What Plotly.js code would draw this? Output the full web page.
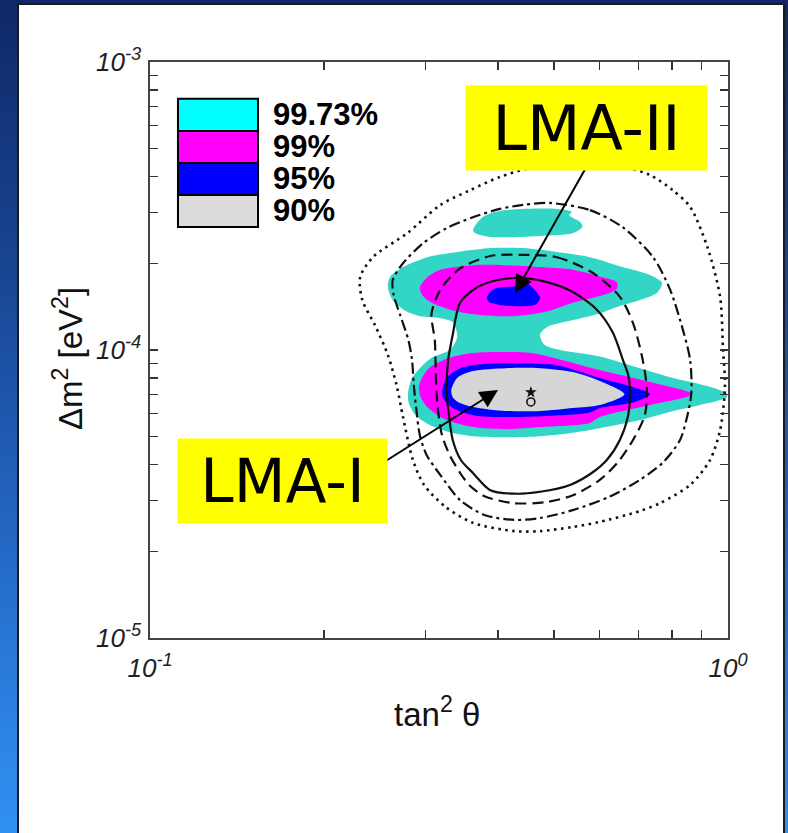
<!DOCTYPE html>
<html><head><meta charset="utf-8">
<script src="https://cdn.plot.ly/plotly-3.0.1.min.js"></script>
<style>
html,body{margin:0;padding:0;width:788px;height:833px;overflow:hidden;}
body{background:linear-gradient(to bottom,#0f2868 0%,#18438f 30%,#2262bd 60%,#2d86e6 90%,#3090f0 100%);}
#panel{position:absolute;left:17px;top:3px;width:764px;height:830px;background:#fff;border:2px solid #1b1b1b;}
#chart{width:764px;height:828px;}
</style></head><body><div id="panel"><div id="chart"></div></div>
<script>
// ---- legend / confidence levels ----
const levels = ['99.73%', '99%', '95%', '90%'];
const legendColors = ['#00ffff', '#ff00ff', '#0000ff', '#dcdcdc'];

// ---- axis ticks ----
const xTickVals = [0.1, 1.0];
const xTickText = ['10<sup>-1</sup>', '10<sup>0</sup>'];
const xMinorTickVals = [0.2,0.3,0.4,0.5,0.6,0.7,0.8,0.9];
const yTickVals = [1e-5, 1e-4, 1e-3];
const yTickText = ['10<sup>-5</sup>', '10<sup>-4</sup>', '10<sup>-3</sup>'];
const yMinorTickVals = [2e-5,3e-5,4e-5,5e-5,6e-5,7e-5,8e-5,9e-5,2e-4,3e-4,4e-4,5e-4,6e-4,7e-4,8e-4,9e-4];

// ---- 99.73% CL region (main, two lobes joined by a neck) ----
const cl9973MainX = [0.258,0.260,0.274,0.302,0.340,0.388,0.442,0.506,0.577,0.657,0.733,0.769,0.754,0.704,0.642,0.600,0.539,0.486,0.473,0.482,0.512,0.600,0.704,0.804,0.921,0.995,0.995,0.895,0.804,0.704,0.600,0.539,0.473,0.413,0.362,0.330,0.305,0.288,0.280,0.280,0.284,0.293,0.307,0.330,0.340,0.334,0.318,0.293,0.276,0.263,0.258];
const cl9973MainY = [1.65e-4,1.79e-4,1.94e-4,2.10e-4,2.19e-4,2.26e-4,2.26e-4,2.19e-4,2.10e-4,1.94e-4,1.82e-4,1.71e-4,1.58e-4,1.49e-4,1.41e-4,1.34e-4,1.27e-4,1.20e-4,1.13e-4,1.04e-4,1.00e-4,9.5e-5,8.65e-5,8.0e-5,7.5e-5,7.06e-5,6.85e-5,6.44e-5,6.14e-5,5.71e-5,5.35e-5,5.16e-5,5.02e-5,4.98e-5,5.02e-5,5.18e-5,5.49e-5,5.94e-5,6.6e-5,7.26e-5,8.0e-5,8.65e-5,9.4e-5,1.0e-4,1.11e-4,1.25e-4,1.29e-4,1.31e-4,1.37e-4,1.49e-4,1.65e-4];
// ---- 99.73% CL island (upper) ----
const cl9973IslandX = [0.362,0.376,0.403,0.506,0.537,0.531,0.555,0.560,0.540,0.473,0.388,0.365,0.362];
const cl9973IslandY = [2.61e-4,2.89e-4,3.04e-4,3.09e-4,3.02e-4,2.94e-4,2.78e-4,2.68e-4,2.55e-4,2.49e-4,2.47e-4,2.55e-4,2.61e-4];
// ---- 99% CL regions ----
const cl99UpperX = [0.293,0.302,0.318,0.362,0.413,0.473,0.539,0.607,0.642,0.642,0.607,0.539,0.486,0.425,0.377,0.340,0.307,0.296,0.293];
const cl99UpperY = [1.65e-4,1.79e-4,1.90e-4,1.97e-4,1.97e-4,1.94e-4,1.90e-4,1.79e-4,1.72e-4,1.63e-4,1.55e-4,1.46e-4,1.36e-4,1.31e-4,1.32e-4,1.36e-4,1.46e-4,1.55e-4,1.65e-4];
const cl99LowerX = [0.292,0.296,0.305,0.330,0.362,0.413,0.458,0.600,0.733,0.867,0.733,0.600,0.577,0.473,0.413,0.362,0.326,0.303,0.294,0.292];
const cl99LowerY = [7.44e-5,8.06e-5,8.72e-5,9.4e-5,9.77e-5,9.85e-5,9.77e-5,8.52e-5,7.74e-5,7.02e-5,6.44e-5,5.85e-5,5.58e-5,5.40e-5,5.31e-5,5.40e-5,5.71e-5,6.29e-5,6.86e-5,7.44e-5];
// ---- 95% CL regions ----
const cl95UpperX = [0.383,0.391,0.407,0.437,0.446,0.454,0.466,0.473,0.465,0.432,0.399,0.385,0.383];
const cl95UpperY = [1.53e-4,1.62e-4,1.65e-4,1.67e-4,1.71e-4,1.68e-4,1.59e-4,1.52e-4,1.44e-4,1.42e-4,1.44e-4,1.47e-4,1.53e-4];
const cl95LowerX = [0.321,0.327,0.344,0.388,0.442,0.506,0.600,0.685,0.733,0.685,0.600,0.577,0.473,0.413,0.362,0.334,0.321,0.321];
const cl95LowerY = [7.44e-5,8.06e-5,8.65e-5,8.97e-5,8.97e-5,8.86e-5,8.0e-5,7.44e-5,7.02e-5,6.57e-5,6.29e-5,6.07e-5,5.89e-5,5.85e-5,5.94e-5,6.29e-5,6.84e-5,7.44e-5];
// ---- 90% CL region ----
const cl90X = [0.332,0.340,0.362,0.413,0.473,0.539,0.600,0.662,0.600,0.539,0.473,0.413,0.362,0.341,0.334,0.332];
const cl90Y = [7.26e-5,8.0e-5,8.45e-5,8.65e-5,8.65e-5,8.39e-5,7.81e-5,7.02e-5,6.44e-5,6.29e-5,6.14e-5,6.14e-5,6.34e-5,6.60e-5,6.86e-5,7.26e-5];

// ---- line contours ----
const solidX = [0.437,0.486,0.539,0.593,0.632,0.658,0.672,0.677,0.672,0.650,0.617,0.581,0.533,0.473,0.427,0.388,0.362,0.345,0.334,0.329,0.326,0.328,0.334,0.344,0.368,0.400,0.437];
const solidY = [1.78e-4,1.72e-4,1.59e-4,1.38e-4,1.15e-4,9.23e-5,8.19e-5,7.26e-5,5.94e-5,4.87e-5,4.15e-5,3.74e-5,3.40e-5,3.22e-5,3.17e-5,3.26e-5,3.74e-5,4.15e-5,4.87e-5,5.94e-5,7.26e-5,9.23e-5,1.13e-4,1.46e-4,1.65e-4,1.75e-4,1.78e-4];
const dashedX = [0.437,0.506,0.584,0.650,0.685,0.712,0.724,0.718,0.685,0.645,0.600,0.539,0.482,0.425,0.380,0.358,0.344,0.330,0.320,0.315,0.313,0.312,0.311,0.307,0.318,0.344,0.388,0.437];
const dashedY = [2.14e-4,2.10e-4,1.85e-4,1.53e-4,1.24e-4,9.23e-5,7.26e-5,5.94e-5,4.87e-5,4.08e-5,3.54e-5,3.13e-5,2.96e-5,2.94e-5,3.10e-5,3.37e-5,3.74e-5,4.32e-5,5.06e-5,6.19e-5,7.26e-5,8.86e-5,1.08e-4,1.34e-4,1.62e-4,1.92e-4,2.12e-4,2.14e-4];
const dashdotX = [0.492,0.577,0.657,0.742,0.794,0.836,0.860,0.864,0.847,0.826,0.773,0.704,0.625,0.539,0.473,0.427,0.380,0.344,0.318,0.301,0.293,0.289,0.286,0.284,0.280,0.271,0.264,0.263,0.274,0.297,0.326,0.362,0.403,0.442,0.492];
const dashdotY = [3.24e-4,3.06e-4,2.67e-4,2.10e-4,1.62e-4,1.17e-4,9.23e-5,7.06e-5,5.71e-5,4.87e-5,4.08e-5,3.54e-5,3.10e-5,2.78e-5,2.61e-5,2.57e-5,2.67e-5,3.01e-5,3.68e-5,4.32e-5,5.06e-5,6.19e-5,7.56e-5,9.23e-5,1.08e-4,1.32e-4,1.55e-4,1.75e-4,2.0e-4,2.35e-4,2.65e-4,2.89e-4,3.09e-4,3.19e-4,3.24e-4];
const dottedX = [0.543,0.650,0.733,0.802,0.860,0.921,0.969,0.980,0.988,0.969,0.931,0.860,0.763,0.704,0.600,0.539,0.473,0.427,0.362,0.324,0.298,0.285,0.274,0.267,0.258,0.245,0.233,0.231,0.243,0.279,0.318,0.358,0.403,0.454,0.543];
const dottedY = [4.46e-4,4.35e-4,4.05e-4,3.59e-4,3.14e-4,2.28e-4,1.53e-4,1.02e-4,7.44e-5,5.27e-5,4.15e-5,3.40e-5,2.94e-5,2.76e-5,2.53e-5,2.43e-5,2.35e-5,2.35e-5,2.51e-5,2.86e-5,3.40e-5,4.15e-5,5.85e-5,7.56e-5,9.6e-5,1.22e-4,1.49e-4,1.79e-4,2.10e-4,2.55e-4,3.19e-4,3.59e-4,3.99e-4,4.28e-4,4.46e-4];

// ---- best-fit points ----
const starX = [0.456], starY = [7.13e-5];
const circX = [0.456], circY = [6.6e-5];

const tealFill = '#33d6c6';
function region(x, y, color) {
  return {type:'scatter', mode:'lines', x:x, y:y, fill:'toself', fillcolor:color,
    line:{width:0, shape:'spline', smoothing:0.8, color:color}, hoverinfo:'skip'};
}
function contour(x, y, dash, w) {
  return {type:'scatter', mode:'lines', x:x, y:y,
    line:{width:w, color:'#111', dash:dash, shape:'spline', smoothing:0.8}, hoverinfo:'skip'};
}

const traces = [
  region(cl9973MainX, cl9973MainY, tealFill),
  region(cl9973IslandX, cl9973IslandY, tealFill),
  region(cl99UpperX, cl99UpperY, legendColors[1]),
  region(cl99LowerX, cl99LowerY, legendColors[1]),
  region(cl95UpperX, cl95UpperY, legendColors[2]),
  region(cl95LowerX, cl95LowerY, legendColors[2]),
  region(cl90X, cl90Y, '#d6d6d6'),
  contour(solidX, solidY, 'solid', 2.2),
  contour(dashedX, dashedY, '11px,6px', 2.2),
  contour(dashdotX, dashdotY, '11px,4px,3px,4px', 2.2),
  contour(dottedX, dottedY, '2.5px,4.5px', 2.6),
  {type:'scatter', mode:'markers', x:starX, y:starY, marker:{symbol:'star', size:9, color:'#111'}, hoverinfo:'skip'},
  {type:'scatter', mode:'markers', x:circX, y:circY, marker:{symbol:'circle-open', size:8, color:'#111', line:{width:1.6, color:'#111'}}, hoverinfo:'skip'}
];

const tickFont = {family:'Liberation Sans, Arial, sans-serif', size:26, style:'italic', color:'#222'};
const minorCommon = {tickmode:'array', ticks:'inside', ticklen:8, tickwidth:1.2, tickcolor:'#333'};
const axisCommon = {type:'log', ticks:'inside', ticklen:8, tickwidth:1.2, tickcolor:'#333',
  showline:true, linecolor:'#444', linewidth:1.6, mirror:'ticks', showgrid:false, zeroline:false,
  tickfont:tickFont, tickmode:'array'};

const shapes = [];
const annotations = [];
const legTop = 0.936, rowH = 0.0556;
levels.forEach((lab, i) => {
  const y1 = legTop - i*rowH, y0 = y1 - rowH;
  shapes.push({type:'rect', xref:'paper', yref:'paper', x0:0.0484, x1:0.1869, y0:y0, y1:y1,
    fillcolor:legendColors[i], line:{color:'#000', width:2}});
  annotations.push({xref:'paper', yref:'paper', x:0.210, y:(y0+y1)/2, xanchor:'left', yanchor:'middle',
    text:lab, showarrow:false, font:{family:'Liberation Sans, Arial, sans-serif', size:31, weight:'bold', color:'#000'}});
});
// axis titles
annotations.push({xref:'paper', yref:'paper', x:-0.142, y:0.486, xanchor:'center', yanchor:'middle', textangle:-90,
  text:'Δm<sup>2</sup> [eV<sup>2</sup>]', showarrow:false, font:{family:'Liberation Sans, Arial, sans-serif', size:33, color:'#111'}});
annotations.push({xref:'paper', yref:'paper', x:0.4965, y:-0.128, xanchor:'center', yanchor:'middle',
  text:'tan<sup>2</sup> θ', showarrow:false, font:{family:'Liberation Sans, Arial, sans-serif', size:33, color:'#111'}});
// arrows
annotations.push({xref:'paper', yref:'paper', x:0.6315, y:0.599, ax:81, ay:-143, text:'', showarrow:true,
  arrowhead:2, arrowsize:1.8, arrowwidth:2, arrowcolor:'#000', standoff:0});
annotations.push({xref:'paper', yref:'paper', x:0.6021, y:0.4306, ax:-128, ay:81, text:'', showarrow:true,
  arrowhead:2, arrowsize:1.8, arrowwidth:2, arrowcolor:'#000', standoff:0});
// labels
annotations.push({xref:'paper', yref:'paper', x:0.7552, y:0.8854, xanchor:'center', yanchor:'middle',
  text:'LMA-II', showarrow:false, bgcolor:'#ffff00', width:241, height:84, borderpad:0,
  font:{family:'Comic Sans MS, DejaVu Sans, sans-serif', size:62, color:'#000'}});
annotations.push({xref:'paper', yref:'paper', x:0.2292, y:0.2726, xanchor:'center', yanchor:'middle',
  text:'LMA-I', showarrow:false, bgcolor:'#ffff00', width:209, height:84, borderpad:0,
  font:{family:'Comic Sans MS, DejaVu Sans, sans-serif', size:60, color:'#000'}});

const layout = {
  width:764, height:828,
  margin:{l:131, r:55, t:57, b:195},
  paper_bgcolor:'#ffffff', plot_bgcolor:'#ffffff',
  showlegend:false,
  xaxis:Object.assign({}, axisCommon, {range:[-1,0], tickvals:xTickVals, ticktext:xTickText, ticklabelstandoff:6,
    minor:Object.assign({}, minorCommon, {tickvals:xMinorTickVals})}),
  yaxis:Object.assign({}, axisCommon, {range:[-5,-3], tickvals:yTickVals, ticktext:yTickText, ticklabelstandoff:2,
    minor:Object.assign({}, minorCommon, {tickvals:yMinorTickVals})}),
  shapes:shapes,
  annotations:annotations
};

Plotly.newPlot('chart', traces, layout, {staticPlot:true, displayModeBar:false});
</script></body></html>
